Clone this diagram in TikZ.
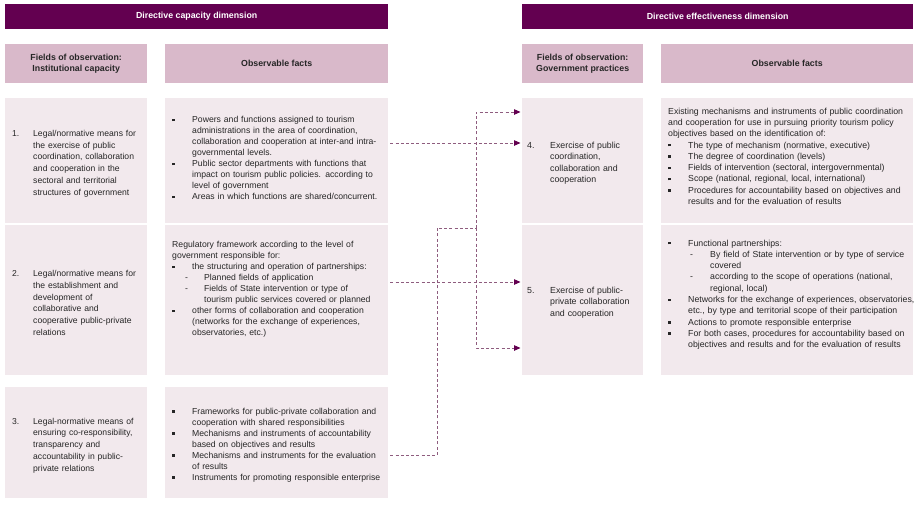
\documentclass[tikz,border=0pt]{standalone}
\usepackage{fontspec}
\setmainfont{Liberation Sans}
\usetikzlibrary{arrows.meta}

\definecolor{dimpurple}{HTML}{630050}
\definecolor{headpink}{HTML}{D9B9CA}
\definecolor{cellpink}{HTML}{F2E9ED}
\definecolor{linkcol}{HTML}{8E5C7E}
\definecolor{textgray}{HTML}{262626}

% Voci degli elenchi (le righe vanno a capo solo con \newline)
\newcommand{\wideright}{\rightskip=-14pt plus 1fil\relax}
\newcommand{\leadpar}{\par\wideright\noindent\ignorespaces}
\newcommand{\sqitem}[1][20pt]{\par\wideright\hangindent=#1\hangafter=1\noindent\makebox[#1][l]{\rule[1.6pt]{2.4pt}{2.4pt}}\ignorespaces}
\newcommand{\dashitem}[2]{\par\wideright\hangindent=#2\hangafter=1\noindent\hspace*{#1}\makebox[\dimexpr#2-#1\relax][l]{-}\ignorespaces}
\newcommand{\numitem}[2]{\par\wideright\hangindent=#2\hangafter=1\noindent\makebox[#2][l]{#1}\ignorespaces}

\begin{document}
\begin{tikzpicture}[x=1pt, y=-1pt,
  font=\fontsize{8.8}{10.7}\selectfont,
  dimhead/.style={fill=dimpurple, text=white, font=\fontsize{8.8}{10.7}\selectfont\bfseries, anchor=north west, inner sep=0pt, minimum height=25pt},
  colhead/.style={fill=headpink, text=textgray, font=\fontsize{8.8}{10.7}\selectfont\bfseries, align=center, anchor=north west, inner sep=0pt, minimum height=39pt},
  cellbox/.style={fill=cellpink, text=textgray, anchor=north west, align=left, inner xsep=7pt, inner ysep=0pt},
  fieldcell/.style={cellbox, font=\fontsize{8.6}{11.8}\selectfont, minimum width=142pt, text width=128pt},
  factcell/.style={cellbox, font=\fontsize{8.65}{11}\selectfont, minimum width=223pt, text width=209pt},
  practcell/.style={cellbox, inner xsep=5pt, font=\fontsize{8.8}{11.4}\selectfont, minimum width=121pt, text width=111pt},
  resultcell/.style={cellbox, font=\fontsize{8.75}{11.3}\selectfont, minimum width=252pt, text width=238pt},
  link/.style={draw=linkcol, line width=0.8pt, dash pattern=on 3pt off 2.2pt, shorten <=2pt},
  linkarrow/.style={link, shorten >=1.5pt, -{Triangle[length=6.5pt, width=5.5pt, color=dimpurple]}}]

\path[use as bounding box, fill=white] (0,0) rectangle (914,509);

% Intestazioni
\node[dimhead, minimum width=383pt] (capacity) at (5,4) {Directive capacity dimension};
\node[dimhead, minimum width=391pt] (effect) at (522,4) {Directive effectiveness dimension};

\node[colhead, minimum width=142pt] (fieldsL) at (5,44) {Fields of observation:\\Institutional capacity};
\node[colhead, minimum width=223pt] (factsL) at (165,44) {Observable facts};
\node[colhead, minimum width=121pt] (fieldsR) at (522,44) {Fields of observation:\\Government practices};
\node[colhead, minimum width=252pt] (factsR) at (661,44) {Observable facts};

% Colonna sinistra: capacita istituzionale
\node[fieldcell, minimum height=125pt] (fieldA) at (5,98) {%
\numitem{1.}{21pt}Legal/normative means for\newline the exercise of public\newline coordination, collaboration\newline and cooperation in the\newline sectoral and territorial\newline structures of government\par};
\node[fieldcell, minimum height=150pt] (fieldB) at (5,225) {%
\numitem{2.}{21pt}Legal/normative means for\newline the establishment and\newline development of\newline collaborative and\newline cooperative public-private\newline relations\par};
\node[fieldcell, minimum height=111pt] (fieldC) at (5,387) {%
\numitem{3.}{21pt}Legal-normative means of\newline ensuring co-responsibility,\newline transparency and\newline accountability in public-\newline private relations\par};

\node[factcell, minimum height=125pt] (factA) at (165,98) {%
\sqitem Powers and functions assigned to tourism\newline administrations in the area of coordination,\newline collaboration and cooperation at inter-and intra-\newline governmental levels.
\sqitem Public sector departments with functions that\newline impact on tourism public policies. according to\newline level of government
\sqitem Areas in which functions are shared/concurrent.\par\vspace{10pt}};
\node[factcell, minimum height=150pt] (factB) at (165,225) {%
\leadpar Regulatory framework according to the level of\newline government responsible for:
\sqitem the structuring and operation of partnerships:
\dashitem{13pt}{32pt}Planned fields of application
\dashitem{13pt}{32pt}Fields of State intervention or type of\newline tourism public services covered or planned
\sqitem other forms of collaboration and cooperation\newline (networks for the exchange of experiences,\newline observatories, etc.)\par\vspace{26pt}};
\node[factcell, minimum height=111pt] (factC) at (165,387) {%
\sqitem Frameworks for public-private collaboration and\newline cooperation with shared responsibilities
\sqitem Mechanisms and instruments of accountability\newline based on objectives and results
\sqitem Mechanisms and instruments for the evaluation\newline of results
\sqitem Instruments for promoting responsible enterprise\par};

% Colonna destra: pratiche di governo
\node[practcell, minimum height=125pt] (practD) at (522,98) {%
\numitem{4.}{23pt}Exercise of public\newline coordination,\newline collaboration and\newline cooperation\par};
\node[practcell, minimum height=150pt] (practE) at (522,225) {%
\numitem{5.}{23pt}Exercise of public-\newline private collaboration\newline and cooperation\par};

\node[resultcell, minimum height=125pt] (resultD) at (661,98) {%
\leadpar Existing mechanisms and instruments of public coordination\newline and cooperation for use in pursuing priority tourism policy\newline objectives based on the identification of:
\sqitem The type of mechanism (normative, executive)
\sqitem The degree of coordination (levels)
\sqitem Fields of intervention (sectoral, intergovernmental)
\sqitem Scope (national, regional, local, international)
\sqitem Procedures for accountability based on objectives and\newline results and for the evaluation of results\par\vspace{14pt}};
\node[resultcell, minimum height=150pt] (resultE) at (661,225) {%
\sqitem Functional partnerships:
\dashitem{22pt}{42pt}By field of State intervention or by type of service\newline covered
\dashitem{22pt}{42pt}according to the scope of operations (national,\newline regional, local)
\sqitem \mbox{Networks for the exchange of experiences, observatories,}\newline etc., by type and territorial scope of their participation
\sqitem Actions to promote responsible enterprise
\sqitem For both cases, procedures for accountability based on\newline objectives and results and for the evaluation of results\par\vspace{16pt}};

% Livelli delle frecce
\coordinate (lvlA) at (0,143);
\coordinate (lvlB) at (0,282);
\coordinate (lvlC) at (0,455);
\coordinate (inD) at (0,112);
\coordinate (inE) at (0,348);
\coordinate (busL) at (437,228);
\coordinate (busR) at (476,228);

% Frecce tratteggiate
\draw[linkarrow] (factA.east |- lvlA) -- (practD.west |- lvlA);
\draw[linkarrow] (factB.east |- lvlB) -- (practE.west |- lvlB);
\draw[link] (factC.east |- lvlC) -| (busL) -- (busR);
\draw[linkarrow, shorten <=0pt] (busR) |- (practD.west |- inD);
\draw[linkarrow, shorten <=0pt] (busR) |- (practE.west |- inE);

\end{tikzpicture}
\end{document}
